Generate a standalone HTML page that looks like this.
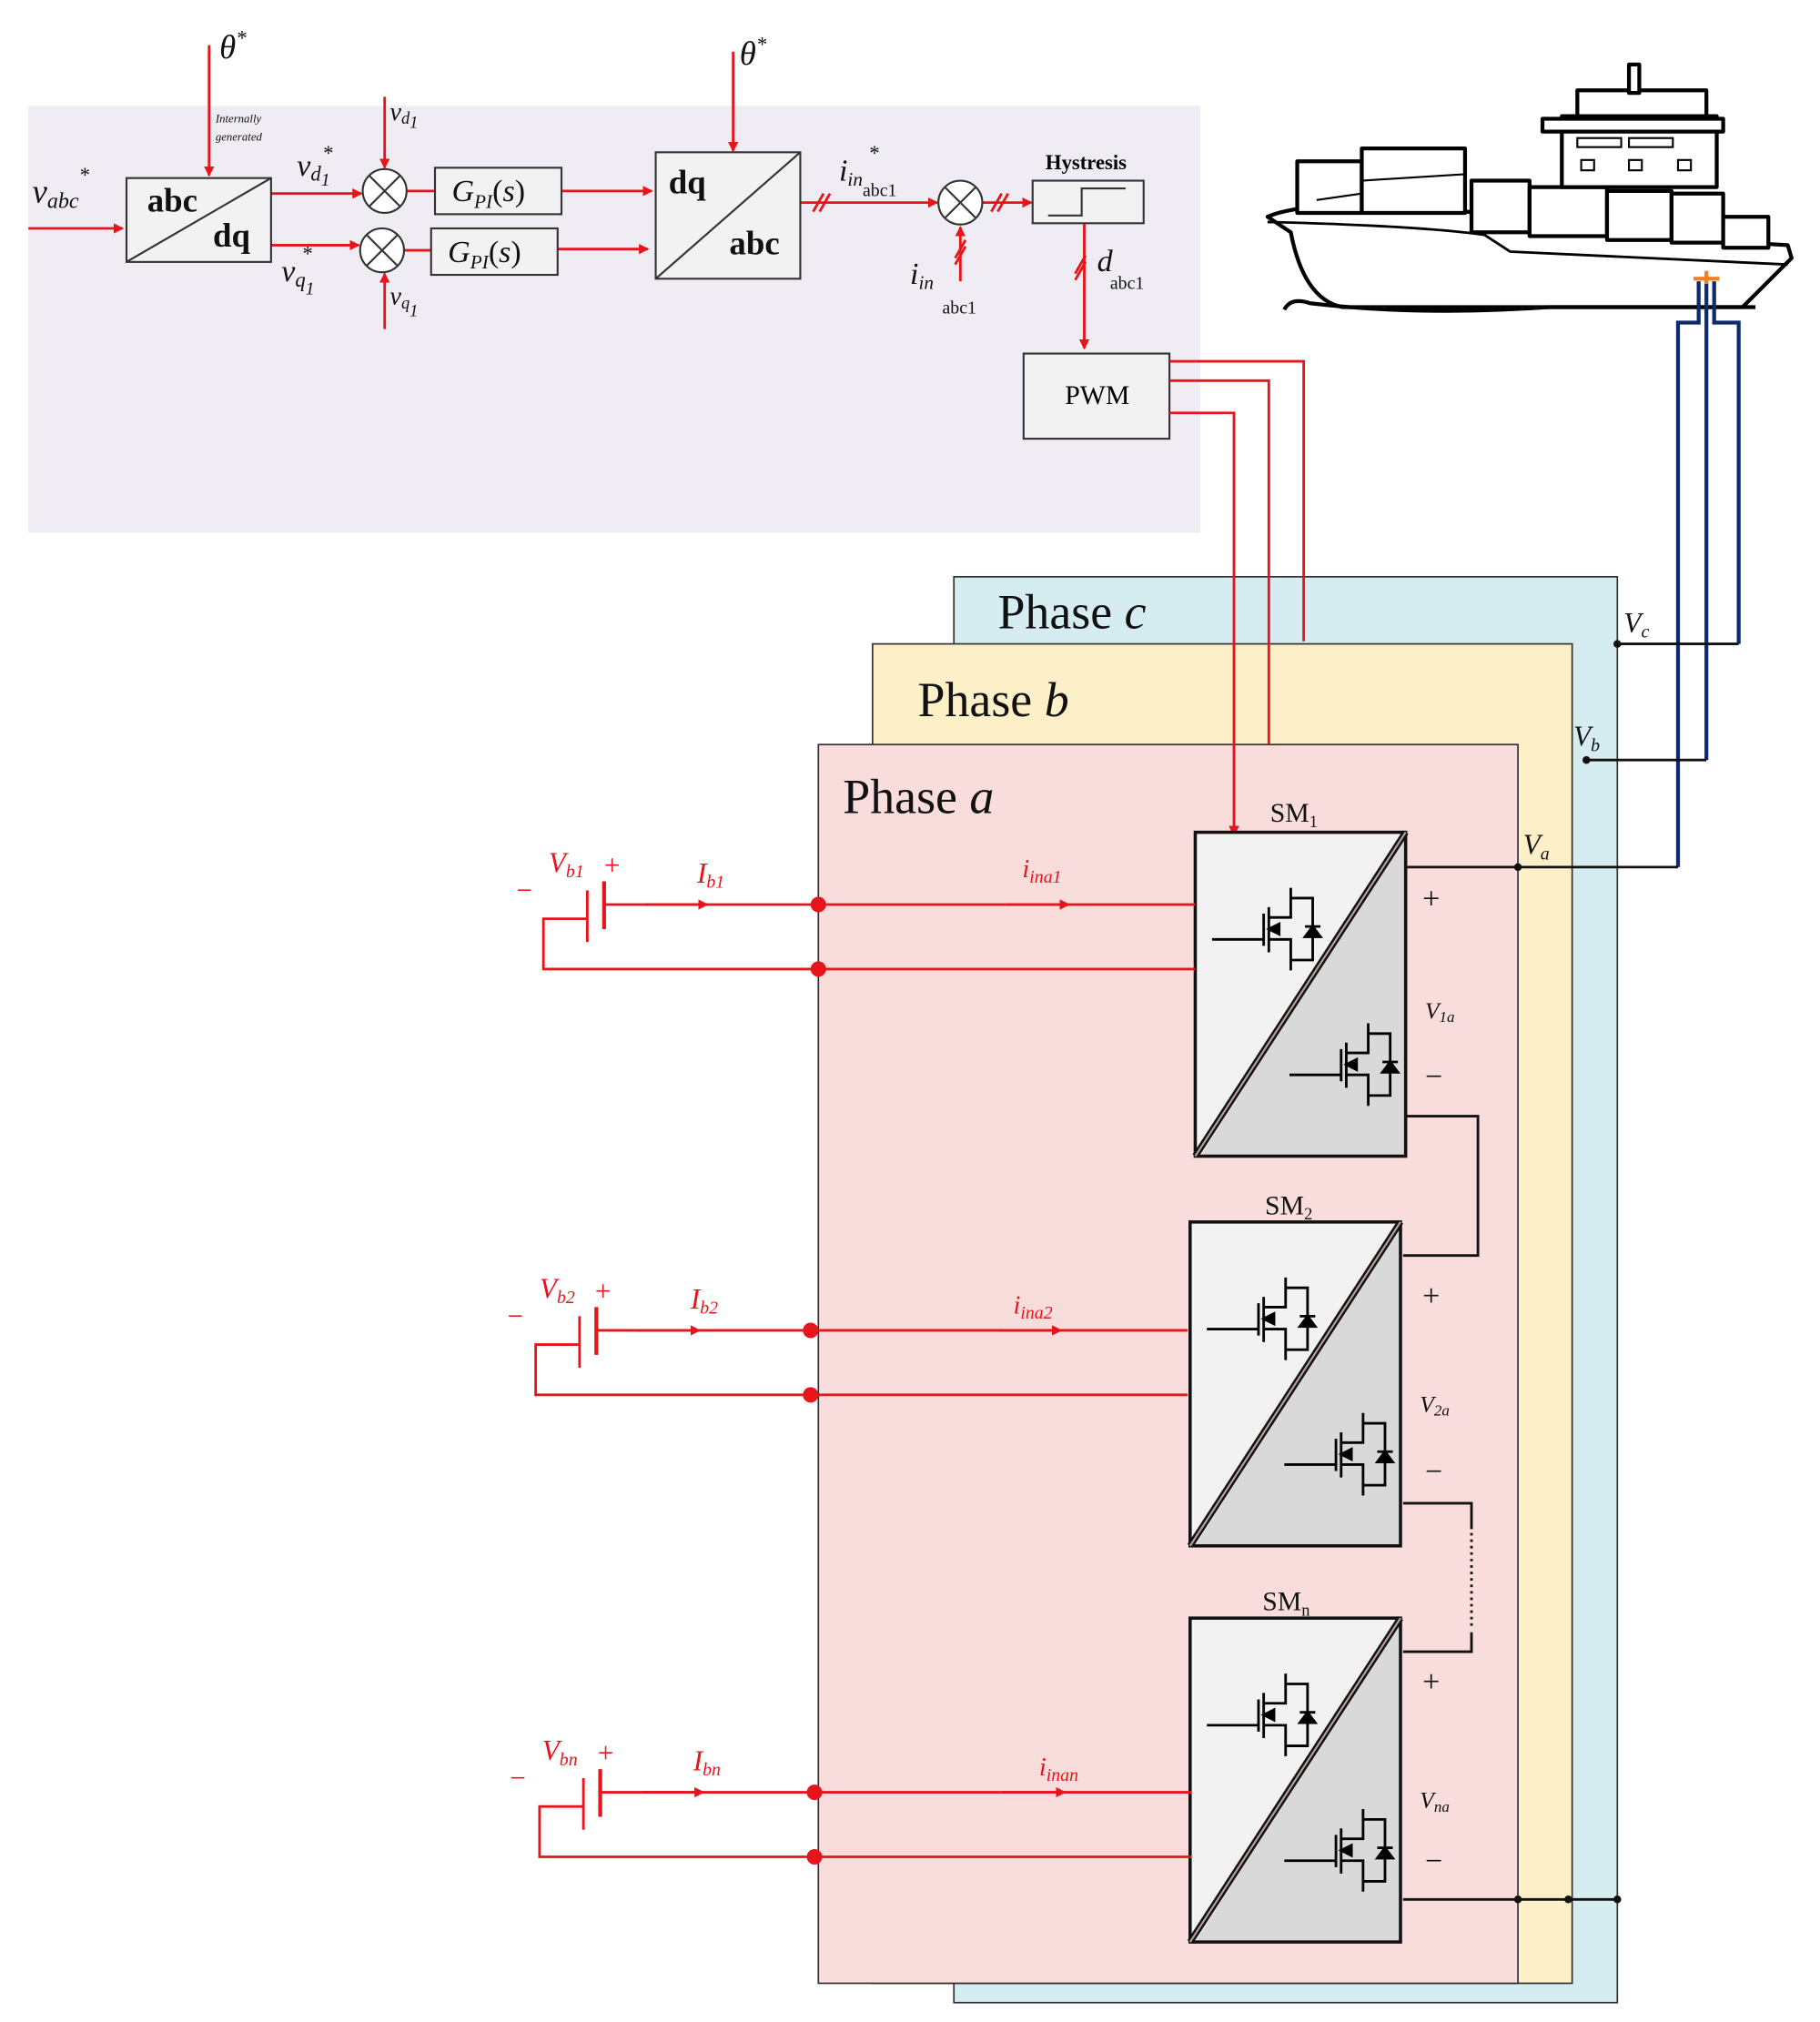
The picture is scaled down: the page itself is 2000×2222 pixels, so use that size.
<!DOCTYPE html>
<html><head><meta charset="utf-8"><style>
html,body{margin:0;padding:0;background:#fff}
svg{display:block}
text{font-family:"Liberation Serif",serif}
</style></head><body>
<svg width="2000" height="2222" viewBox="0 0 1410 1567" preserveAspectRatio="none" xmlns="http://www.w3.org/2000/svg">
<defs>
<marker id="ar" markerWidth="8" markerHeight="8" refX="7" refY="4" orient="auto" markerUnits="userSpaceOnUse"><path d="M0,0 L8,4 L0,8 Z" fill="#e8141b"/></marker>
<g id="tr" stroke="#000" stroke-width="2" fill="none">
<path d="M0,0 H40 M40,-20 V5 M44,-25 V10 M44,-17 H61 V-40 M44,0 H61 V24 M61,-32 H78 V16 H61"/>
<path d="M44,-8 L52,-12 L52,-4 Z" fill="#000"/>
<path d="M72,-10 H84 M72,-2 L84,-2 L78,-10 Z" fill="#000"/>
</g>
</defs>
<!-- control panel -->
<rect x="22" y="82" width="908" height="331" fill="#efedf3"/>
<g stroke="#e8141b" stroke-width="2" fill="none">
<line x1="162" y1="35" x2="162" y2="136" marker-end="url(#ar)"/>
<line x1="568" y1="40" x2="568" y2="117" marker-end="url(#ar)"/>
<line x1="22" y1="177" x2="95" y2="177" marker-end="url(#ar)"/>
<line x1="210" y1="150" x2="280" y2="150" marker-end="url(#ar)"/>
<line x1="210" y1="190" x2="278" y2="190" marker-end="url(#ar)"/>
<line x1="298" y1="75" x2="298" y2="130" marker-end="url(#ar)"/>
<line x1="298" y1="255" x2="298" y2="212" marker-end="url(#ar)"/>
<line x1="315" y1="148" x2="337" y2="148"/>
<line x1="313" y1="194" x2="334" y2="194"/>
<line x1="435" y1="148" x2="505" y2="148" marker-end="url(#ar)"/>
<line x1="432" y1="193" x2="502" y2="193" marker-end="url(#ar)"/>
<line x1="620" y1="157" x2="726" y2="157" marker-end="url(#ar)"/>
<line x1="744" y1="218" x2="744" y2="176" marker-end="url(#ar)"/>
<line x1="761" y1="157" x2="799" y2="157" marker-end="url(#ar)"/>
<line x1="840" y1="173" x2="840" y2="270" marker-end="url(#ar)"/>
<path d="M630,164 L638,150 M635,164 L643,150 M768,164 L776,150 M773,164 L781,150 M740,205 L748,191 M740,200 L748,186 M833,217 L841,203 M833,212 L841,198"/>
</g>
<g stroke="#333" stroke-width="1.5" fill="#f2f2f2">
<rect x="98" y="138" width="112" height="65"/>
<rect x="337" y="130" width="98" height="36"/>
<rect x="334" y="177" width="98" height="36"/>
<rect x="508" y="118" width="112" height="98"/>
<rect x="800" y="140" width="86" height="33"/>
<rect x="793" y="274" width="113" height="66"/>
<circle cx="298" cy="148" r="17" fill="#fff"/>
<circle cx="296" cy="194" r="17" fill="#fff"/>
<circle cx="744" cy="157" r="17" fill="#fff"/>
</g>
<g stroke="#333" stroke-width="1.5">
<line x1="98" y1="203" x2="210" y2="138"/><line x1="508" y1="216" x2="620" y2="118"/>
<path d="M286,136 L310,160 M310,136 L286,160 M284,182 L308,206 M308,182 L284,206 M732,145 L756,169 M756,145 L732,169" fill="none"/>
<path d="M812,167 H838 V146 H872" fill="none"/>
</g>
<g font-size="26" font-weight="bold" fill="#111">
<text x="114" y="164">abc</text><text x="165" y="191">dq</text>
<text x="518" y="150">dq</text><text x="565" y="197">abc</text>
</g>
<text x="825" y="313" font-size="21">PWM</text>
<text x="810" y="131" font-size="16" font-weight="bold">Hystresis</text>
<g font-style="italic" fill="#111">
<text x="170" y="45" font-size="26">θ<tspan font-size="16" dy="-10">*</tspan></text>
<text x="573" y="50" font-size="26">θ<tspan font-size="16" dy="-10">*</tspan></text>
<text x="167" y="95" font-size="9">Internally</text>
<text x="167" y="109" font-size="9">generated</text>
<text x="25" y="157" font-size="26">v<tspan font-size="17" dy="4">abc</tspan><tspan font-size="16" dy="-20">*</tspan></text>
<text x="230" y="136" font-size="24">v<tspan font-size="16" dy="4">d</tspan><tspan font-size="14" dy="4">1</tspan><tspan font-size="16" dx="-6" dy="-20">*</tspan></text>
<text x="218" y="218" font-size="24">v<tspan font-size="16" dy="4">q</tspan><tspan font-size="14" dy="6">1</tspan><tspan font-size="16" dx="-10" dy="-26">*</tspan></text>
<text x="302" y="93" font-size="20">v<tspan font-size="13" dy="3">d</tspan><tspan font-size="13" dy="3">1</tspan></text>
<text x="302" y="236" font-size="20">v<tspan font-size="13" dy="3">q</tspan><tspan font-size="13" dy="6">1</tspan></text>
<text x="350" y="156" font-size="24">G<tspan font-size="15" dy="5">PI</tspan><tspan font-style="normal" dy="-5">(</tspan>s<tspan font-style="normal">)</tspan></text>
<text x="347" y="203" font-size="24">G<tspan font-size="15" dy="5">PI</tspan><tspan font-style="normal" dy="-5">(</tspan>s<tspan font-style="normal">)</tspan></text>
<text x="650" y="140" font-size="24">i<tspan font-size="15" dy="4">in</tspan><tspan font-size="14" font-style="normal" dy="8">abc1</tspan><tspan font-size="16" dx="-22" dy="-28">*</tspan></text>
<text x="705" y="220" font-size="24">i<tspan font-size="15" dy="4">in</tspan></text>
<text x="730" y="243" font-size="14" font-style="normal">abc1</text>
<text x="850" y="210" font-size="24">d</text>
<text x="860" y="224" font-size="14" font-style="normal">abc1</text>
</g>
<!-- phases -->
<rect x="739" y="447" width="514" height="1105" fill="#d5ecf0" stroke="#333" stroke-width="1.2"/>
<rect x="676" y="499" width="542" height="1038" fill="#fdf0c8" stroke="#333" stroke-width="1.2"/>
<rect x="634" y="577" width="542" height="960" fill="#f9dcdc" stroke="#333" stroke-width="1.2"/>
<g stroke="#e8141b" stroke-width="2" fill="none">
<path d="M906,280 H1010 V497 M906,295 H983 V577 M906,320 H956 V646"/>
</g>
<path d="M952,640 L956,649 L960,640 Z" fill="#e8141b"/>
<g font-family="Liberation Sans,sans-serif" font-size="38" fill="#111">
<text x="773" y="487">Phase <tspan font-family="Liberation Serif" font-style="italic">c</tspan></text>
<text x="711" y="555">Phase <tspan font-family="Liberation Serif" font-style="italic">b</tspan></text>
<text x="653" y="630">Phase <tspan font-family="Liberation Serif" font-style="italic">a</tspan></text>
</g>
<!-- ship -->
<g stroke="#000" stroke-width="3" fill="#fff" stroke-linejoin="round">
<path d="M982,168 Q1000,160 1050,158 L1150,165 L1210,180 L1385,190 L1388,200 L1350,238 L1040,238 Q1010,232 1000,180 Z" fill="#fff"/>
<path d="M995,240 Q1000,230 1015,235 Q1100,245 1200,238 L1360,238" fill="none"/>
<path d="M982,172 Q1100,175 1150,182 L1170,195 L1385,205" fill="none" stroke-width="2"/>
<rect x="1005" y="125" width="50" height="40"/><rect x="1055" y="115" width="80" height="50"/>
<rect x="1140" y="140" width="45" height="40"/><rect x="1185" y="145" width="60" height="38"/>
<rect x="1245" y="148" width="50" height="38"/><rect x="1295" y="150" width="40" height="38"/>
<rect x="1335" y="168" width="35" height="24"/>
<rect x="1210" y="90" width="120" height="55"/><rect x="1195" y="92" width="140" height="10"/>
<rect x="1222" y="70" width="100" height="20"/><rect x="1262" y="50" width="8" height="22"/>
</g>
<g stroke="#000" stroke-width="1.5" fill="none">
<rect x="1222" y="107" width="34" height="7"/><rect x="1262" y="107" width="34" height="7"/>
<rect x="1225" y="124" width="10" height="8"/><rect x="1262" y="124" width="10" height="8"/><rect x="1300" y="124" width="10" height="8"/>
<line x1="1020" y1="155" x2="1055" y2="150"/><line x1="1055" y1="140" x2="1135" y2="135"/>
</g>
<!-- blue lines -->
<g stroke="#0d2a6e" stroke-width="3" fill="none">
<path d="M1316,218 V250 H1300 V672 M1322,218 V589 M1328,218 V250 H1347 V499"/>
</g>
<path d="M1312,216 H1332 M1322,210 V220" stroke="#f08020" stroke-width="3"/>
<g stroke="#111" stroke-width="2" fill="none">
<path d="M1253,499 H1347 M1229,589 H1322 M1176,672 H1300"/>
<path d="M1089,672 H1176 M1089,865 H1145 V973 H1087 M1087,1165 H1140 V1185 M1140,1265 V1280 H1087 M1087,1472 H1253"/>
<path d="M1140,1188 V1263" stroke-dasharray="2,3"/>
</g>
<g fill="#111"><circle cx="1253" cy="499" r="3"/><circle cx="1229" cy="589" r="3"/><circle cx="1176" cy="672" r="3"/><circle cx="1176" cy="1472" r="3"/><circle cx="1215" cy="1472" r="3"/><circle cx="1253" cy="1472" r="3"/></g>
<g font-style="italic" font-size="22" fill="#111">
<text x="1258" y="490">V<tspan font-size="14" dy="4">c</tspan></text>
<text x="1219" y="578">V<tspan font-size="14" dy="4">b</tspan></text>
<text x="1180" y="662">V<tspan font-size="14" dy="4">a</tspan></text>
</g>
<!-- submodules -->
<g id="sm">
<polygon points="926,645 1089,645 930,896 926,896" fill="#f2f2f2"/>
<polygon points="1089,645 1089,896 930,896" fill="#d9d9d9"/>
<rect x="926" y="645" width="163" height="251" fill="none" stroke="#111" stroke-width="2.5"/>
<line x1="926" y1="896" x2="1089" y2="645" stroke="#111" stroke-width="5"/>
<line x1="926" y1="896" x2="1089" y2="645" stroke="#b8a0a0" stroke-width="1.5"/>
<use href="#tr" x="939" y="728"/><use href="#tr" x="999" y="833"/>
</g>
<use href="#sm" x="-4" y="302"/>
<use href="#sm" x="-4" y="609"/>
<g font-size="21" fill="#111">
<text x="984" y="637">SM<tspan font-size="13" dy="4">1</tspan></text>
<text x="980" y="941">SM<tspan font-size="13" dy="4">2</tspan></text>
<text x="978" y="1248">SM<tspan font-size="13" dy="4">n</tspan></text>
<text x="1102" y="704" font-size="24">+</text><text x="1104" y="842" font-size="24">−</text>
<text x="1102" y="1012" font-size="24">+</text><text x="1104" y="1148" font-size="24">−</text>
<text x="1102" y="1311" font-size="24">+</text><text x="1104" y="1450" font-size="24">−</text>
<g font-style="italic" font-size="18">
<text x="1104" y="789">V<tspan font-size="12" dy="3">1a</tspan></text>
<text x="1100" y="1094">V<tspan font-size="12" dy="3">2a</tspan></text>
<text x="1100" y="1401">V<tspan font-size="12" dy="3">na</tspan></text>
</g></g>
<!-- battery circuits -->
<g id="bat">
<g stroke="#e8141b" stroke-width="2" fill="none">
<path d="M468,701 H926 M455,712 H421 V751 H926"/>
<line x1="455" y1="690" x2="455" y2="730"/><line x1="468" y1="683" x2="468" y2="720" stroke-width="3"/>
<line x1="500" y1="701" x2="548" y2="701" marker-end="url(#ar)"/>
<line x1="780" y1="701" x2="828" y2="701" marker-end="url(#ar)"/>
</g>
<circle cx="634" cy="701" r="6" fill="#e8141b"/><circle cx="634" cy="751" r="6" fill="#e8141b"/>
</g>
<use href="#bat" x="-6" y="330"/>
<use href="#bat" x="-3" y="688"/>
<g fill="#e8141b" font-style="italic" font-size="22">
<text x="425" y="676">V<tspan font-size="14" dy="4">b1</tspan></text><text x="468" y="678" font-style="normal">+</text><text x="400" y="697" font-style="normal">−</text>
<text x="540" y="684">I<tspan font-size="14" dy="4">b1</tspan></text>
<text x="792" y="680" font-size="20">i<tspan font-size="14" dy="4">ina1</tspan></text>
<text x="418" y="1006">V<tspan font-size="14" dy="4">b2</tspan></text><text x="461" y="1008" font-style="normal">+</text><text x="393" y="1027" font-style="normal">−</text>
<text x="535" y="1014">I<tspan font-size="14" dy="4">b2</tspan></text>
<text x="785" y="1018" font-size="20">i<tspan font-size="14" dy="4">ina2</tspan></text>
<text x="420" y="1364">V<tspan font-size="14" dy="4">bn</tspan></text><text x="463" y="1366" font-style="normal">+</text><text x="395" y="1385" font-style="normal">−</text>
<text x="537" y="1372">I<tspan font-size="14" dy="4">bn</tspan></text>
<text x="805" y="1376" font-size="20">i<tspan font-size="14" dy="4">inan</tspan></text>
</g>
</svg>
</body></html>
